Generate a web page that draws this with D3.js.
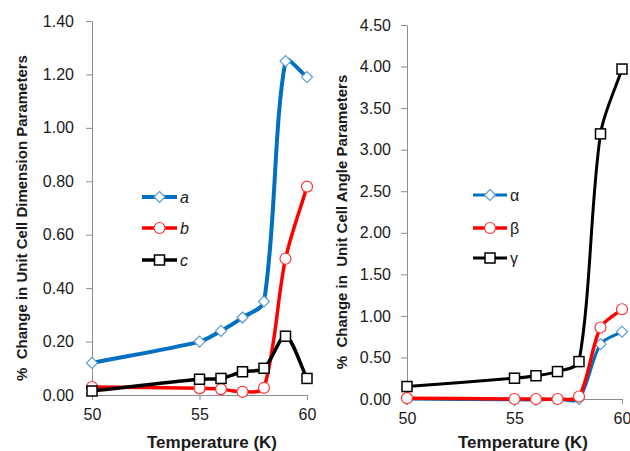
<!DOCTYPE html>
<html><head><meta charset="utf-8">
<script src="https://cdn.jsdelivr.net/npm/d3@7"></script>
<style>
body{margin:0;background:#fff;}
svg{display:block;}
text{font-family:"Liberation Sans",Arial,sans-serif;fill:#1a1a1a;}
</style></head><body>
<svg id="c" width="630" height="451"></svg>
<script>
const temps = [50, 55, 56, 57, 58, 59, 60];
const seriesA = [0.12, 0.20, 0.24, 0.29, 0.35, 1.25, 1.19];
const seriesB = [0.03, 0.025, 0.022, 0.012, 0.027, 0.51, 0.78];
const seriesC = [0.015, 0.059, 0.062, 0.087, 0.10, 0.22, 0.062];
const seriesAlpha = [0.0, -0.01, -0.01, 0.0, 0.0, 0.66, 0.81];
const seriesBeta = [0.01, 0.0, 0.0, 0.0, 0.03, 0.86, 1.08];
const seriesGamma = [0.15, 0.25, 0.28, 0.33, 0.45, 3.19, 3.97];
const leftYTicks = [0, 0.2, 0.4, 0.6, 0.8, 1.0, 1.2, 1.4];
const rightYTicks = [0, 0.5, 1.0, 1.5, 2.0, 2.5, 3.0, 3.5, 4.0, 4.5];
const xTicks = [50, 55, 60];
const leftNames = ["a", "b", "c"];
const rightNames = ["α", "β", "γ"];

const svg = d3.select("#c");
const BLUE = "#0070C0", RED = "#FF0000", BLACK = "#000000";

// Smoothed-line curve factory (spreadsheet-style Bezier smoothing) for d3.line
function smoothCurve(context) {
  const f = 0.3;
  let pts;
  return {
    areaStart() {}, areaEnd() {},
    lineStart() { pts = []; },
    point(x, y) { pts.push([+x, +y]); },
    lineEnd() {
      const n = pts.length;
      if (!n) return;
      context.moveTo(pts[0][0], pts[0][1]);
      const d = (p, q) => Math.hypot(q[0] - p[0], q[1] - p[1]);
      const ctrl = i => {
        const p = pts[i], prev = pts[Math.max(0, i - 1)], next = pts[Math.min(n - 1, i + 1)];
        const tx = next[0] - prev[0], ty = next[1] - prev[1];
        const d0 = d(prev, p), d1 = d(p, next), s = d0 + d1 || 1;
        return {
          back: [p[0] - f * d0 / s * tx, p[1] - f * d0 / s * ty],
          fwd: [p[0] + f * d1 / s * tx, p[1] + f * d1 / s * ty]
        };
      };
      for (let i = 0; i < n - 1; i++) {
        const c1 = ctrl(i).fwd, c2 = ctrl(i + 1).back;
        context.bezierCurveTo(c1[0], c1[1], c2[0], c2[1], pts[i + 1][0], pts[i + 1][1]);
      }
    }
  };
}

function panel(cfg) {
  const x = d3.scaleLinear().domain([50, 60]).range(cfg.xr);
  const y = d3.scaleLinear().domain(cfg.yd).range(cfg.yr);
  const g = svg.append("g");
  const ya = g.append("g").attr("transform", `translate(${cfg.xr[0]},0)`)
    .call(d3.axisLeft(y).tickValues(cfg.yTicks).tickFormat(d3.format(".2f")).tickSizeOuter(0).tickSizeInner(6).tickPadding(cfg.yPad));
  const xa = g.append("g").attr("transform", `translate(0,${cfg.yr[0]})`)
    .call(d3.axisBottom(x).tickValues(xTicks).tickFormat(d3.format("d")).tickSizeOuter(0).tickSizeInner(5).tickPadding(9));
  [ya, xa].forEach(a => {
    a.selectAll("path,line").attr("stroke", "#8c8c8c").attr("stroke-width", 1);
    a.selectAll("text").style("font-size", "16px").attr("fill", "#1a1a1a");
  });
  g.append("text").attr("x", cfg.xTitleX).attr("y", 448).attr("text-anchor", "middle")
    .style("font-size", "17px").style("font-weight", "bold").text("Temperature (K)");
  g.append("text").attr("transform", `translate(${cfg.yTitleX},${cfg.yTitleY}) rotate(-90)`)
    .attr("text-anchor", "middle").style("font-size", cfg.yTitleSize).style("font-weight", "bold")
    .style("white-space", "pre").attr("xml:space", "preserve").text(cfg.yTitle);
  const line = d3.line().x((d, i) => x(temps[i])).y(d => y(d)).curve(smoothCurve);
  cfg.series.forEach(s => {
    g.append("path").datum(s.values).attr("d", line).attr("fill", "none")
      .attr("stroke", s.color).attr("stroke-width", s.width).attr("stroke-linejoin", "round");
    s.values.forEach((v, i) => marker(g, s, x(temps[i]), y(v)));
  });
  cfg.series.forEach((s, i) => {
    const ly = cfg.legY[i];
    g.append("line").attr("x1", cfg.legX[0]).attr("x2", cfg.legX[1]).attr("y1", ly).attr("y2", ly)
      .attr("stroke", s.color).attr("stroke-width", s.width);
    marker(g, s, (cfg.legX[0] + cfg.legX[1]) / 2, ly);
    g.append("text").attr("x", cfg.legX[1] + 3).attr("y", ly + 6)
      .style("font-size", "16px").style("font-style", cfg.italic ? "italic" : "normal").text(cfg.names[i]);
  });
}

function marker(g, s, cx, cy) {
  if (s.shape === "diamond") {
    const r = 5.5;
    g.append("path").attr("d", `M${cx},${cy - r}L${cx + r},${cy}L${cx},${cy + r}L${cx - r},${cy}Z`)
      .attr("fill", "#fff").attr("stroke", "#5B9BD5").attr("stroke-width", 1.2);
  } else if (s.shape === "circle") {
    g.append("circle").attr("cx", cx).attr("cy", cy).attr("r", 5.5)
      .attr("fill", "#fff").attr("stroke", "#FF3333").attr("stroke-width", 1.2);
  } else {
    const h = 5;
    g.append("rect").attr("x", cx - h).attr("y", cy - h).attr("width", 2 * h).attr("height", 2 * h)
      .attr("fill", "#fff").attr("stroke", "#000").attr("stroke-width", 1.5);
  }
}

panel({
  xr: [92, 307], yd: [0, 1.4], yr: [395, 21], yTicks: leftYTicks, yPad: 12,
  xTitleX: 212, yTitleX: 27, yTitleY: 218, yTitleSize: "15px",
  yTitle: "%  Change in Unit Cell Dimension Parameters",
  legX: [142, 177], legY: [197, 228, 260], names: leftNames, italic: true,
  series: [
    {values: seriesA, color: BLUE, width: 4, shape: "diamond"},
    {values: seriesB, color: RED, width: 3.5, shape: "circle"},
    {values: seriesC, color: BLACK, width: 3.5, shape: "square"}
  ]
});
panel({
  xr: [407, 622], yd: [0, 4.5], yr: [399, 25], yTicks: rightYTicks, yPad: 10,
  xTitleX: 523, yTitleX: 347, yTitleY: 222, yTitleSize: "15px",
  yTitle: "%  Change in  Unit Cell Angle Parameters",
  legX: [473, 507], legY: [195, 228, 258], names: rightNames, italic: false,
  series: [
    {values: seriesAlpha, color: BLUE, width: 3, shape: "diamond"},
    {values: seriesBeta, color: RED, width: 3.5, shape: "circle"},
    {values: seriesGamma, color: BLACK, width: 3, shape: "square"}
  ]
});
</script></body></html>
